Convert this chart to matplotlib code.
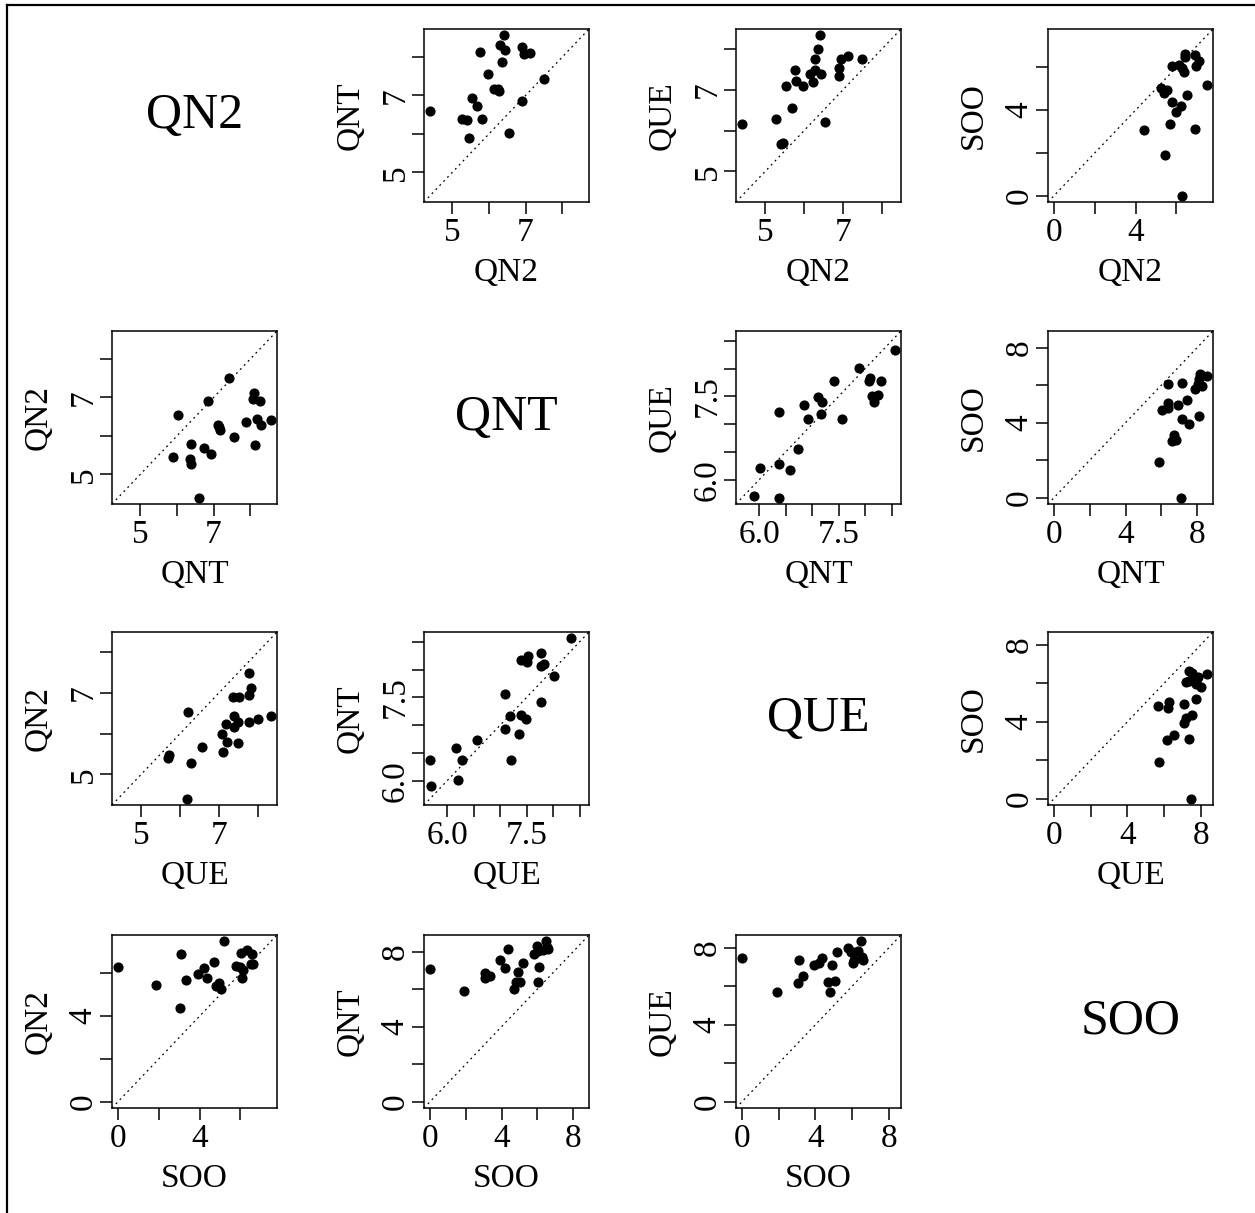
import numpy as np
import matplotlib
matplotlib.use('Agg')
import matplotlib.pyplot as plt

plt.rcParams['font.family'] = 'Liberation Serif'

names = ['QN2', 'QNT', 'QUE', 'SOO']

QN2 = [6.42, 6.29, 6.90, 6.43, 5.77, 6.95, 7.12, 6.37, 5.98, 7.50, 6.15,
       6.28, 6.24, 5.54, 6.90, 5.68, 4.40, 5.27, 5.80, 5.41, 6.54, 5.46]
QNT = [8.56, 8.30, 8.25, 8.17, 8.13, 8.07, 8.10, 7.88, 7.56, 7.42, 7.18,
       7.11, 7.16, 6.93, 6.85, 6.73, 6.59, 6.38, 6.38, 6.37, 6.02, 5.90]
QUE = [8.34, 7.77, 7.53, 7.39, 7.50, 7.77, 7.83, 8.01, 7.09, 7.77, 7.39,
       7.48, 7.19, 7.10, 7.35, 6.56, 6.17, 6.28, 7.21, 5.68, 6.21, 5.70]
SOO = [6.50, 5.97, 6.56, 6.62, 4.37, 6.05, 6.32, 5.80, 3.92, 5.20, 6.12,
       0.00, 4.20, 4.93, 3.10, 3.33, 3.05, 5.05, 6.06, 4.80, 4.70, 1.88]

data = [QN2, QNT, QUE, SOO]

W, H = 1255, 1213
fig = plt.figure(figsize=(W / 100, H / 100), dpi=100)

# outer frame (top and left edges visible in the reference)
fig.add_artist(plt.Line2D([7 / W, 7 / W], [0, 1 - 5 / H], color='black', lw=1.6))
fig.add_artist(plt.Line2D([7 / W, 1], [1 - 5 / H, 1 - 5 / H], color='black', lw=1.6))

lefts = [112, 424, 736, 1048]
tops = [29, 331, 632, 935]
pw, ph = 165, 173


def ticks_for(lo, hi):
    if lo < 1:
        step, every, fmt = 2, 2, '{:.0f}'
    elif hi - lo < 3.4:
        step, every, fmt = 0.5, 3, '{:.1f}'
    else:
        step, every, fmt = 1, 2, '{:.0f}'
    t = np.arange(np.ceil(lo / step) * step, hi + 1e-9, step)
    labs = [fmt.format(v) if k % every == 0 else '' for k, v in enumerate(t)]
    return t, labs


for i in range(4):
    for j in range(4):
        l, t = lefts[j], tops[i]
        if i == j:
            fig.text((l + pw / 2) / W, 1 - (t + ph / 2) / H, names[i],
                     fontsize=36, ha='center', va='center')
            continue
        ax = fig.add_axes([l / W, 1 - (t + ph) / H, pw / W, ph / H])
        x = np.array(data[i])
        y = np.array(data[j])
        lo = min(x.min(), y.min())
        hi = max(x.max(), y.max())
        pad = 0.04 * (hi - lo)
        lims = (lo - pad, hi + pad)
        ax.plot(lims, lims, color='black', lw=0.9, ls=(0, (1.5, 3)))
        ax.plot(x, y, 'o', color='black', ms=6.3)
        ax.set_xlim(lims)
        ax.set_ylim(lims)
        tk, labs = ticks_for(lo, hi)
        tk_in = [(v, s) for v, s in zip(tk, labs) if lims[0] <= v <= lims[1]]
        ax.set_xticks([v for v, s in tk_in])
        ax.set_xticklabels([s for v, s in tk_in])
        ax.set_yticks([v for v, s in tk_in])
        ax.set_yticklabels([s for v, s in tk_in], rotation=90, va='center')
        ax.tick_params(length=8.5, width=1.1, labelsize=24, pad=3)
        ax.tick_params(axis='y', pad=1)
        for sp in ax.spines.values():
            sp.set_linewidth(1.1)
        fig.text((l + pw / 2) / W, 1 - (t + ph + 71) / H, names[i],
                 fontsize=24, ha='center', va='center')
        fig.text((l - 74) / W, 1 - (t + ph / 2) / H, names[j],
                 fontsize=24, ha='center', va='center', rotation=90)

fig.savefig('out.png', dpi=100)
